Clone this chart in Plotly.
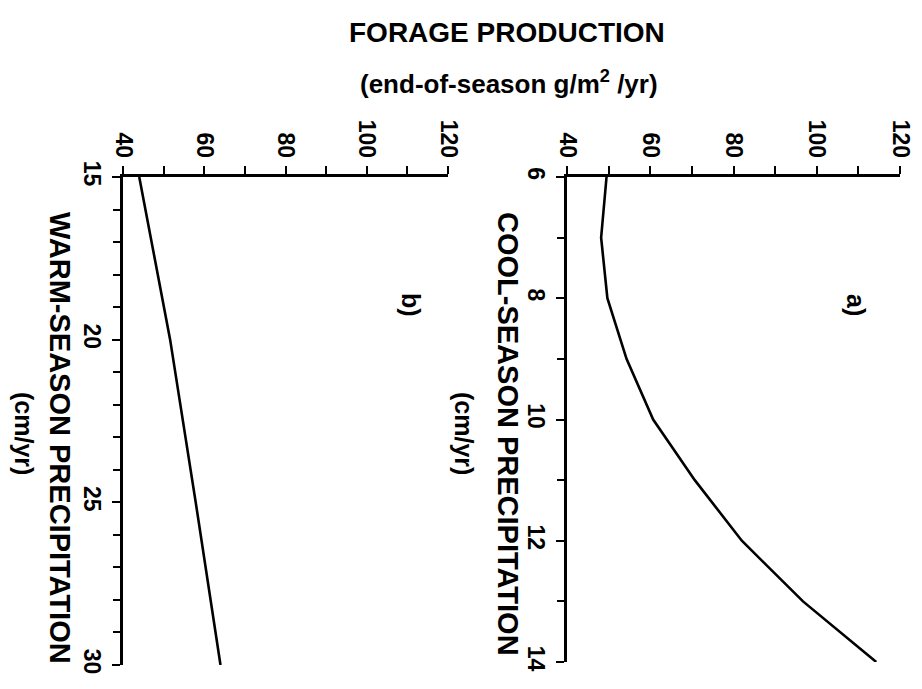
import plotly.graph_objects as go

# Cool-season precipitation (cm/yr) vs forage production (g/m2/yr)
cool_precip = [6, 7, 8, 9, 10, 11, 12, 13, 14]
cool_forage = [49.5, 48.2, 49.7, 54.3, 60.7, 70.7, 82.0, 96.7, 114.3]

# Warm-season precipitation (cm/yr) vs forage production (g/m2/yr)
warm_precip = [15, 20, 25, 30]
warm_forage = [44.0, 51.6, 57.9, 64.0]

forage_ticks = [40, 60, 80, 100, 120]
forage_tick_text = ["40", "60", "80", "100", "120"]
cool_ticks = [6, 8, 10, 12, 14]
warm_ticks = [15, 20, 25, 30]

W, H = 922, 689
FONT = "Liberation Sans, Arial, Helvetica, sans-serif"


def px(x):
    return x / W


def py(y):
    return 1 - y / H


fig = go.Figure()
line_style = dict(color="black", width=2.6)
fig.add_trace(go.Scatter(x=cool_forage, y=cool_precip, mode="lines", line=line_style,
                         xaxis="x", yaxis="y", showlegend=False))
fig.add_trace(go.Scatter(x=warm_forage, y=warm_precip, mode="lines", line=line_style,
                         xaxis="x2", yaxis="y2", showlegend=False))

tickfont = dict(family=FONT, size=23, color="black", weight="bold")
common = dict(showgrid=False, zeroline=False, showline=True, linecolor="black",
              linewidth=2.8, ticks="outside", ticklen=8, tickwidth=2.4,
              tickcolor="black", tickfont=tickfont, tickangle=90,
              automargin=False)

forage_axis = dict(range=[40, 120], side="top", tickmode="array",
                   tickvals=forage_ticks, ticktext=forage_tick_text,
                   minor=dict(dtick=10, tick0=40, ticks="outside", ticklen=8,
                              tickwidth=2.4, tickcolor="black"),
                   **common)

fig.update_layout(
    width=W, height=H,
    margin=dict(l=0, r=0, t=0, b=0, pad=0),
    paper_bgcolor="white", plot_bgcolor="white",
    xaxis=dict(domain=[px(567), px(900)], anchor="y", **forage_axis),
    yaxis=dict(domain=[py(662), py(177)], anchor="x", range=[14, 6],
               tickmode="array", tickvals=cool_ticks,
               minor=dict(dtick=1, tick0=6, ticks="outside", ticklen=7,
                          tickwidth=2.4, tickcolor="black"),
               **common),
    xaxis2=dict(domain=[px(123), px(448)], anchor="y2", **forage_axis),
    yaxis2=dict(domain=[py(665), py(177)], anchor="x2", range=[30, 15],
                tickmode="array", tickvals=warm_ticks,
                minor=dict(dtick=1, tick0=15, ticks="outside", ticklen=7,
                           tickwidth=2.4, tickcolor="black"),
                **common),
)

bold = dict(family=FONT, color="black", weight="bold")
annotations = [
    dict(text="FORAGE PRODUCTION", x=px(507), y=py(33), font=dict(size=28, **bold), textangle=0),
    dict(text="(end-of-season g/m<sup>2</sup> /yr)", x=px(509), y=py(82),
         font=dict(size=26, **bold), textangle=0),
    dict(text="COOL-SEASON PRECIPITATION", x=px(508), y=py(434),
         font=dict(size=29, **bold), textangle=90),
    dict(text="(cm/yr)", x=px(464), y=py(433), font=dict(size=25, **bold), textangle=90),
    dict(text="WARM-SEASON PRECIPITATION", x=px(60), y=py(438),
         font=dict(size=29, **bold), textangle=90),
    dict(text="(cm/yr)", x=px(24), y=py(433), font=dict(size=25, **bold), textangle=90),
    dict(text="a)", x=px(856), y=py(305), font=dict(size=25, **bold), textangle=90),
    dict(text="b)", x=px(411), y=py(305), font=dict(size=25, **bold), textangle=90),
]
for a in annotations:
    fig.add_annotation(xref="paper", yref="paper", showarrow=False,
                       xanchor="center", yanchor="middle", **a)

fig.write_html("out.html")
